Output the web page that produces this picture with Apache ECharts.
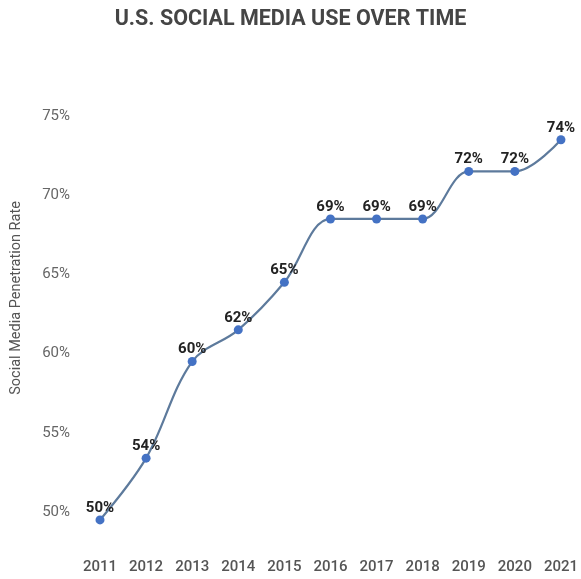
<!DOCTYPE html>
<html>
<head>
<meta charset="utf-8">
<script src="https://cdn.jsdelivr.net/npm/echarts@6/dist/echarts.min.js"></script>
<style>
  html, body { margin: 0; padding: 0; background: #fff; }
  #chart { width: 581px; height: 579px; }
</style>
</head>
<body>
<div id="chart"></div>
<script>
// years on the x axis
var years = ['2011', '2012', '2013', '2014', '2015', '2016', '2017', '2018', '2019', '2020', '2021'];
// where each point sits on the y scale
var rates = [49.5, 53.4, 59.5, 61.5, 64.5, 68.5, 68.5, 68.5, 71.5, 71.5, 73.5];
// labels printed over the points
var rateLabels = ['50%', '54%', '60%', '62%', '65%', '69%', '69%', '69%', '72%', '72%', '74%'];

var myChart = echarts.init(document.getElementById('chart'));
myChart.setOption({
  animation: false,
  backgroundColor: '#fff',
  title: {
    text: 'U.S. SOCIAL MEDIA USE OVER TIME',
    left: 'center',
    top: 4,
    textStyle: {
      fontFamily: 'Roboto',
      fontSize: 21.5,
      fontWeight: 'bold',
      color: '#454545'
    }
  },
  grid: {
    left: 100,
    right: 17,
    top: 116,
    bottom: 67
  },
  xAxis: {
    type: 'category',
    data: years,
    boundaryGap: false,
    axisLine: { show: false },
    axisTick: { show: false },
    splitLine: { show: false },
    axisLabel: {
      margin: 48,
      fontFamily: 'Roboto',
      fontSize: 15,
      fontWeight: 500,
      color: '#555'
    }
  },
  yAxis: {
    type: 'value',
    min: 50,
    max: 75,
    interval: 5,
    axisLine: { show: false },
    axisTick: { show: false },
    splitLine: { show: false },
    axisLabel: {
      margin: 30,
      fontFamily: 'Roboto',
      fontSize: 15,
      color: '#666',
      formatter: '{value}%'
    }
  },
  graphic: [{
    type: 'text',
    x: 16,
    y: 298,
    rotation: Math.PI / 2,
    style: {
      text: 'Social Media Penetration Rate',
      font: '14.5px Roboto',
      fill: '#555',
      align: 'center',
      verticalAlign: 'middle'
    }
  }],
  series: [{
    type: 'line',
    data: rates,
    smooth: 0.35,
    clip: false,
    symbol: 'circle',
    symbolSize: 9,
    itemStyle: { color: '#4472c4' },
    lineStyle: { color: '#5d7a9c', width: 2.2 },
    label: {
      show: true,
      position: 'top',
      distance: 0,
      fontFamily: 'Roboto',
      fontSize: 15,
      fontWeight: 'bold',
      color: '#222',
      formatter: function (p) { return rateLabels[p.dataIndex]; }
    }
  }]
});
</script>
</body>
</html>
